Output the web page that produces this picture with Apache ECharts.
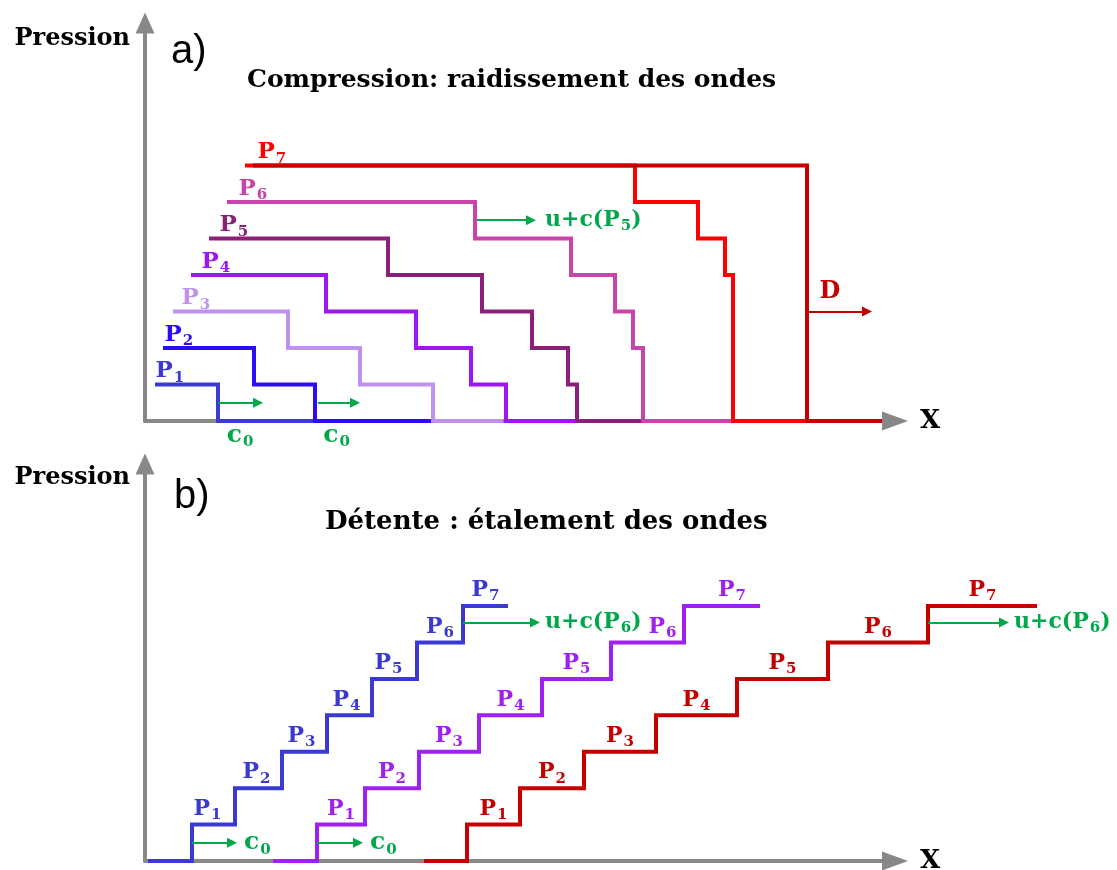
<!DOCTYPE html>
<html>
<head>
<meta charset="utf-8">
<script src="https://cdn.jsdelivr.net/npm/echarts@6/dist/echarts.min.js"></script>
<style>html,body{margin:0;padding:0;background:#fff}#c{width:1117px;height:870px}</style>
</head>
<body>
<div id="c"></div>
<script>
// ---------- DATA (X in arbitrary distance units, pressure as level index 0..7) ----------
// Panel a) compression: breakpoints along X and pressure level of each horizontal segment
const aP1X = [1.0, 7.3, 17.0];                          const aP1P = [1, 0];
const aP2X = [1.8, 10.9, 17.0, 28.7];                   const aP2P = [2, 1, 0];
const aP3X = [2.8, 14.3, 21.5, 28.8, 35.8];             const aP3P = [3, 2, 1, 0];
const aP4X = [4.6, 18.1, 27.1, 32.6, 36.1, 43.0];       const aP4P = [4, 3, 2, 1, 0];
const aP5X = [6.4, 24.3, 33.7, 38.7, 42.3, 43.2, 49.7]; const aP5P = [5, 4, 3, 2, 1, 0];
const aP6X = [8.2, 33.0, 42.6, 47.0, 48.8, 49.8, 59.0]; const aP6P = [6, 5, 4, 3, 2, 0];
const aP7X = [10.0, 49.0, 55.3, 58.0, 58.8, 66.2];      const aP7P = [7, 6, 5, 4, 0];
const aDX  = [10.8, 66.2, 73.7];                        const aDP  = [7, 0];

// Panel b) detente: breakpoints along X for three staircase profiles (levels 0..7)
const bLevels   = [0, 1, 2, 3, 4, 5, 6, 7];
const bBlueX    = [0.3, 4.7, 9.0, 13.7, 18.2, 22.7, 27.2, 31.8, 36.3];
const bPurpleX  = [12.8, 17.2, 22.0, 27.4, 33.4, 39.7, 46.6, 53.9, 61.5];
const bRedX     = [27.9, 32.2, 37.5, 43.9, 51.1, 59.2, 68.3, 78.3, 89.2];

// Arrows (start X, end X, pressure level) and their texts
const aArrowX1 = [7.3, 17.3, 33.2, 66.2];
const aArrowX2 = [11.3, 21.0, 38.6, 72.2];
const aArrowP  = [0.5, 0.5, 5.5, 3.0];
const aArrowText = ['c_0', 'c_0', 'u+c(P_5)', 'D'];
const bArrowX1 = [4.7, 17.2, 31.8, 78.3];
const bArrowX2 = [8.7, 21.3, 39.0, 85.9];
const bArrowP  = [0.5, 0.5, 6.55, 6.55];
const bArrowText = ['c_0', 'c_0', 'u+c(P_6)', 'u+c(P_6)'];

const levelNames = ['1', '2', '3', '4', '5', '6', '7'];

// ---------- STYLE ----------
const FONT = 'DejaVu Serif';
const GREEN = '#00a84a';
const aColors = ['#3a3ad0', '#2a0cf8', '#c092ee', '#9d16f0', '#8b2078', '#c844aa', '#ff0000', '#c40000'];
const bColors = ['#3a3ad0', '#a020f0', '#c40000'];
const aLabelDx = [1, 2, 9, 11, 11, 12, 13];
const aArrowColor = [GREEN, GREEN, GREEN, '#c40000'];
const aArrowPos = ['insideMiddleBottom', 'insideMiddleBottom', 'end', 'insideMiddleTop'];
const aArrowDist = [20, 20, 14, 8];
const aArrowOffset = [[2, 0], [0, 0], [0, 0], [-7, 0]];
const bArrowColor = [GREEN, GREEN, GREEN, GREEN];
const bArrowPos = ['end', 'end', 'end', 'end'];
const bArrowDist = [12, 12, 10, 10];
const bLabelShift = [[-6,-2,-3,-3,-6,0,0],[0,0,0,0,0,15,10],[0,0,0,0,0,0,0]];

function rich(color, size, sub) {
  return {
    m: {fontFamily: FONT, fontWeight: 'bold', fontSize: size, lineHeight: size, color: color, verticalAlign: 'top', opacity: 1},
    s: {fontFamily: FONT, fontWeight: 'bold', fontSize: sub, lineHeight: sub, color: color, opacity: 1, padding: [Math.round(size * 0.55), 0, 0, 1]}
  };
}
function toRich(t) {
  const parts = t.split('_');
  let out = '{m|' + parts[0] + '}';
  for (let i = 1; i < parts.length; i++) {
    out += '{s|' + parts[i][0] + '}';
    const rest = parts[i].slice(1);
    if (rest) out += '{m|' + rest + '}';
  }
  return out;
}
function stepPoints(xs, ps) {
  const pts = [];
  for (let i = 0; i < ps.length; i++) {
    pts.push([xs[i], ps[i]]);
    pts.push([xs[i + 1], ps[i]]);
  }
  return pts;
}

const series = [];
const aCurves = [[aP1X, aP1P], [aP2X, aP2P], [aP3X, aP3P], [aP4X, aP4P], [aP5X, aP5P], [aP6X, aP6P], [aP7X, aP7P], [aDX, aDP]];
aCurves.forEach((c, i) => {
  series.push({
    type: 'line', xAxisIndex: 0, yAxisIndex: 0, data: stepPoints(c[0], c[1]),
    symbol: 'none', showSymbol: false, clip: false, silent: true, z: 3,
    lineStyle: {color: aColors[i], width: 4, join: 'miter', cap: 'butt'}
  });
});
series.push({
  type: 'scatter', xAxisIndex: 0, yAxisIndex: 0, symbolSize: 1, clip: false, silent: true, z: 4,
  itemStyle: {color: 'rgba(0,0,0,0)', opacity: 1},
  label: {show: true, opacity: 1},
  data: aCurves.slice(0, 7).map((c, i) => ({
    value: [c[0][0], c[1][0]],
    label: {formatter: toRich('P_' + levelNames[i]), rich: rich(aColors[i], 23, 15),
            position: [aLabelDx[i], -1], align: 'left', verticalAlign: 'bottom'}
  }))
});
series.push({
  type: 'lines', coordinateSystem: 'cartesian2d', xAxisIndex: 0, yAxisIndex: 0, clip: false, silent: true, z: 5,
  symbol: ['none', 'triangle'], symbolSize: 10,
  lineStyle: {width: 2, opacity: 1, curveness: 0},
  label: {show: true},
  data: aArrowX1.map((x, i) => ({
    coords: [[x, aArrowP[i]], [aArrowX2[i], aArrowP[i]]],
    lineStyle: {color: aArrowColor[i]},
    label: {formatter: toRich(aArrowText[i]), rich: rich(aArrowColor[i], i < 2 ? 25 : (i === 3 ? 24 : 22), 15),
            position: aArrowPos[i], distance: aArrowDist[i], offset: aArrowOffset[i]}
  }))
});

// panel b) curves live on a wide overlay grid (index 2) sharing the same scale as grid 1
const bCurves = [bBlueX, bPurpleX, bRedX];
bCurves.forEach((xs, ci) => {
  series.push({
    type: 'line', xAxisIndex: 2, yAxisIndex: 2, data: stepPoints(xs, bLevels),
    symbol: 'none', showSymbol: false, clip: false, silent: true, z: 3,
    lineStyle: {color: bColors[ci], width: 4, join: 'miter', cap: 'butt'}
  });
  series.push({
    type: 'scatter', xAxisIndex: 2, yAxisIndex: 2, symbolSize: 1, clip: false, silent: true, z: 4,
    itemStyle: {color: 'rgba(0,0,0,0)', opacity: 1},
    label: {show: true, opacity: 1},
    data: levelNames.map((n, k) => ({
      value: [(xs[k + 1] + xs[k + 2]) / 2, bLevels[k + 1]],
      label: {formatter: toRich('P_' + n), rich: rich(bColors[ci], 22, 15),
              position: 'top', distance: 4, offset: [bLabelShift[ci][k], 0]}
    }))
  });
});
series.push({
  type: 'lines', coordinateSystem: 'cartesian2d', xAxisIndex: 2, yAxisIndex: 2, clip: false, silent: true, z: 5,
  symbol: ['none', 'triangle'], symbolSize: 10,
  lineStyle: {width: 2, opacity: 1, curveness: 0},
  label: {show: true},
  data: bArrowX1.map((x, i) => ({
    coords: [[x, bArrowP[i]], [bArrowX2[i], bArrowP[i]]],
    lineStyle: {color: bArrowColor[i]},
    label: {formatter: toRich(bArrowText[i]), rich: rich(bArrowColor[i], i < 2 ? 25 : 22, 15),
            position: bArrowPos[i], distance: bArrowDist[i]}
  }))
});

function xAx(idx) {
  return {
    type: 'value', gridIndex: idx, min: 0, max: 75,
    name: 'X', nameLocation: 'end', nameGap: 25,
    nameTextStyle: {fontFamily: FONT, fontWeight: 'bold', fontSize: 26, color: '#000', verticalAlign: 'middle'},
    axisLine: {show: true, onZero: false, symbol: ['none', 'triangle'], symbolSize: [19, 26], lineStyle: {color: '#888888', width: 4}},
    axisTick: {show: false}, axisLabel: {show: false}, splitLine: {show: false}
  };
}
function yAx(idx, gap) {
  return {
    type: 'value', gridIndex: idx, min: 0, max: 10.9,
    name: 'Pression', nameLocation: 'end', nameGap: gap,
    nameTextStyle: {fontFamily: FONT, fontWeight: 'bold', fontSize: 24, color: '#000', align: 'right', verticalAlign: 'middle', padding: [0, 15, 0, 0]},
    axisLine: {show: true, onZero: false, symbol: ['none', 'triangle'], symbolSize: [19, 21], lineStyle: {color: '#888888', width: 4}},
    axisTick: {show: false}, axisLabel: {show: false}, splitLine: {show: false}
  };
}
const hiddenX = {type: 'value', gridIndex: 2, min: 0, max: 92, show: false};
const hiddenY = {type: 'value', gridIndex: 2, min: 0, max: 10.9, show: false};

const chart = echarts.init(document.getElementById('c'), null, {renderer: 'canvas'});
chart.setOption({
  animation: false,
  backgroundColor: '#ffffff',
  grid: [
    {left: 145, right: 222, top: 23, bottom: 449, outerBoundsMode: 'none', containLabel: false},
    {left: 145, right: 222, top: 464, bottom: 9, outerBoundsMode: 'none', containLabel: false},
    {left: 145, right: 52, top: 464, bottom: 9, outerBoundsMode: 'none', containLabel: false}
  ],
  xAxis: [xAx(0), xAx(1), hiddenX],
  yAxis: [yAx(0, -16), yAx(1, -14), hiddenY],
  graphic: [
    {type: 'text', x: 171, y: 52, style: {text: 'a)', font: '40px "Liberation Sans"', fill: '#000', align: 'left', verticalAlign: 'middle', textAlign: 'left', textVerticalAlign: 'middle'}},
    {type: 'text', x: 174, y: 497, style: {text: 'b)', font: '40px "Liberation Sans"', fill: '#000', align: 'left', verticalAlign: 'middle', textAlign: 'left', textVerticalAlign: 'middle'}},
    {type: 'text', x: 247, y: 80, style: {text: 'Compression: raidissement des ondes', font: 'bold 25px "DejaVu Serif"', fill: '#000', align: 'left', verticalAlign: 'middle', textAlign: 'left', textVerticalAlign: 'middle'}},
    {type: 'text', x: 325, y: 522, style: {text: 'Détente : étalement des ondes', font: 'bold 26px "DejaVu Serif"', fill: '#000', align: 'left', verticalAlign: 'middle', textAlign: 'left', textVerticalAlign: 'middle'}}
  ],
  series: series
});
</script>
</body>
</html>
